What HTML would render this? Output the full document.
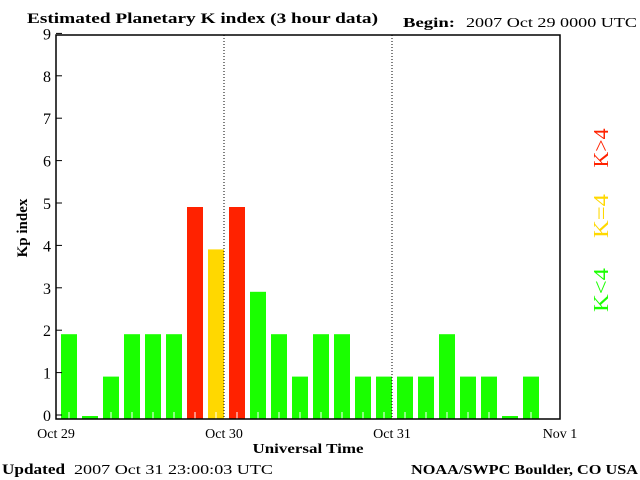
<!DOCTYPE html>
<html><head><meta charset="utf-8"><style>
body{margin:0;background:#fff}
svg{display:block}
text{font-family:"Liberation Serif",serif}
</style></head><body>
<svg id="chart" width="640" height="480" viewBox="0 0 640 480" xmlns="http://www.w3.org/2000/svg">
<rect width="640" height="480" fill="#fff"/>
<text x="27" y="23" font-size="15" font-weight="bold" textLength="351" lengthAdjust="spacingAndGlyphs">Estimated Planetary K index (3 hour data)</text>
<text x="403" y="27" font-size="14" font-weight="bold" textLength="52" lengthAdjust="spacingAndGlyphs">Begin:</text>
<text x="466" y="27" font-size="14" font-family="Liberation Sans" textLength="171" lengthAdjust="spacingAndGlyphs">2007 Oct 29 0000 UTC</text>
<g id="bars"></g>
<g id="axes"></g>
<text transform="translate(27,228) rotate(-90)" text-anchor="middle" font-size="15" font-weight="bold">Kp index</text>
<text x="308" y="453" text-anchor="middle" font-size="14" font-weight="bold" textLength="111" lengthAdjust="spacingAndGlyphs">Universal Time</text>
<text transform="translate(608,148) rotate(-90)" text-anchor="middle" font-size="21" fill="#ff2200" textLength="39" lengthAdjust="spacingAndGlyphs">K&gt;4</text>
<text transform="translate(608,216) rotate(-90)" text-anchor="middle" font-size="21" fill="#ffd800" textLength="44" lengthAdjust="spacingAndGlyphs">K=4</text>
<text transform="translate(608,290) rotate(-90)" text-anchor="middle" font-size="21" fill="#1aff00" textLength="44" lengthAdjust="spacingAndGlyphs">K&lt;4</text>
<text x="2" y="474" font-size="15" font-weight="bold" textLength="63" lengthAdjust="spacingAndGlyphs">Updated</text>
<text x="74" y="474" font-size="14" font-family="Liberation Sans" textLength="199" lengthAdjust="spacingAndGlyphs">2007 Oct 31 23:00:03 UTC</text>
<text x="411" y="474" font-size="14" font-weight="bold" textLength="227" lengthAdjust="spacingAndGlyphs">NOAA/SWPC Boulder, CO USA</text>
</svg>
<script>
const kpValues=[2,0,1,2,2,2,5,4,5,3,2,1,2,2,1,1,1,1,2,1,1,0,1];
const yTicks=[0,1,2,3,4,5,6,7,8,9];
const dayLabels=["Oct 29","Oct 30","Oct 31","Nov 1"];
const NS="http://www.w3.org/2000/svg";
const L=56,R=560,T=35,B=419,slots=24,unit=42.4;
const x=i=>L+(R-L)/slots*i;
const y=v=>B-v*unit;
function mk(tag,attrs,parent){const e=document.createElementNS(NS,tag);for(const k in attrs)e.setAttribute(k,attrs[k]);parent.appendChild(e);return e;}
const bars=document.getElementById('bars'),axes=document.getElementById('axes');
kpValues.forEach((v,i)=>{
  const col=v>4?"#ff2200":(v==4?"#ffd800":"#1aff00");
  const top=v===0?B-3:y(v);
  const r=mk('rect',{x:x(i)+5,y:top,width:16,height:B-top,fill:col},bars);
  
  
  if(v>0){const t=mk('line',{x1:x(i)+13,x2:x(i)+13,y1:B-7,y2:B,stroke:"#fff","stroke-width":1},bars);
  
  }
});
const frame=mk('rect',{x:L,y:T,width:R-L,height:B-T,fill:"none",stroke:"#000","stroke-width":1.5},axes);


yTicks.forEach(v=>{
  const yy=y(v)-4;
  const tk=mk('line',{x1:L,x2:L+6,y1:yy,y2:yy,stroke:"#000"},axes);
  
  
  const t=mk('text',{x:L-5,y:yy+6,"text-anchor":"end","font-size":16,"font-family":"Liberation Sans"},axes);
  t.textContent=v;
  
  
});
dayLabels.forEach((d,i)=>{
  const xx=x(i*8);
  if(i>0&&i<3){const g=mk('line',{x1:xx,x2:xx,y1:T,y2:B,stroke:"#000","stroke-dasharray":"1,2"},axes);
  
  }
  const t=mk('text',{x:xx,y:438,"text-anchor":"middle","font-size":14,"font-family":"Liberation Sans"},axes);
  t.textContent=d;
  
  
});
</script>
</body></html>
